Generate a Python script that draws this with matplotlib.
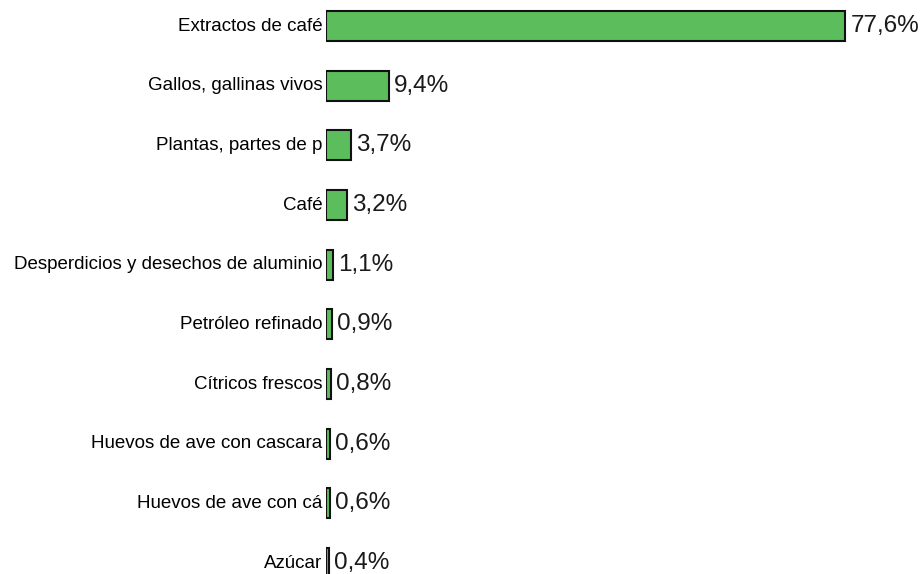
import matplotlib.pyplot as plt

# export shares (%) by product, top to bottom
productos = [
    "Extractos de café",
    "Gallos, gallinas vivos",
    "Plantas, partes de p",
    "Café",
    "Desperdicios y desechos de aluminio",
    "Petróleo refinado",
    "Cítricos frescos",
    "Huevos de ave con cascara",
    "Huevos de ave con cá",
    "Azúcar",
]
participacion = [77.6, 9.4, 3.7, 3.2, 1.1, 0.9, 0.8, 0.6, 0.6, 0.4]
etiquetas = ["77,6%", "9,4%", "3,7%", "3,2%", "1,1%", "0,9%", "0,8%", "0,6%", "0,6%", "0,4%"]

GREEN = "#5cbd5c"

fig = plt.figure(figsize=(9.21, 5.74), dpi=100)
ax = fig.add_axes([326 / 921, 0, 595 / 921, 1])
ax.set_xlim(0, 88.9)
ax.set_ylim(9.184, -0.436)

ypos = list(range(len(productos)))
ax.barh(ypos, participacion, height=0.5, color=GREEN, edgecolor="#111111",
        linewidth=1.5)

for y, v, lbl, name in zip(ypos, participacion, etiquetas, productos):
    ax.text(v + 0.75, y, lbl, ha="left", va="center", fontsize=17.5,
            color="#1a1a1a", family="Liberation Sans")
    ax.text(-0.5, y, name, ha="right", va="center", fontsize=13.5,
            color="black", family="Liberation Sans", clip_on=False)

ax.axis("off")
fig.savefig("out.png", dpi=100, facecolor="white")
